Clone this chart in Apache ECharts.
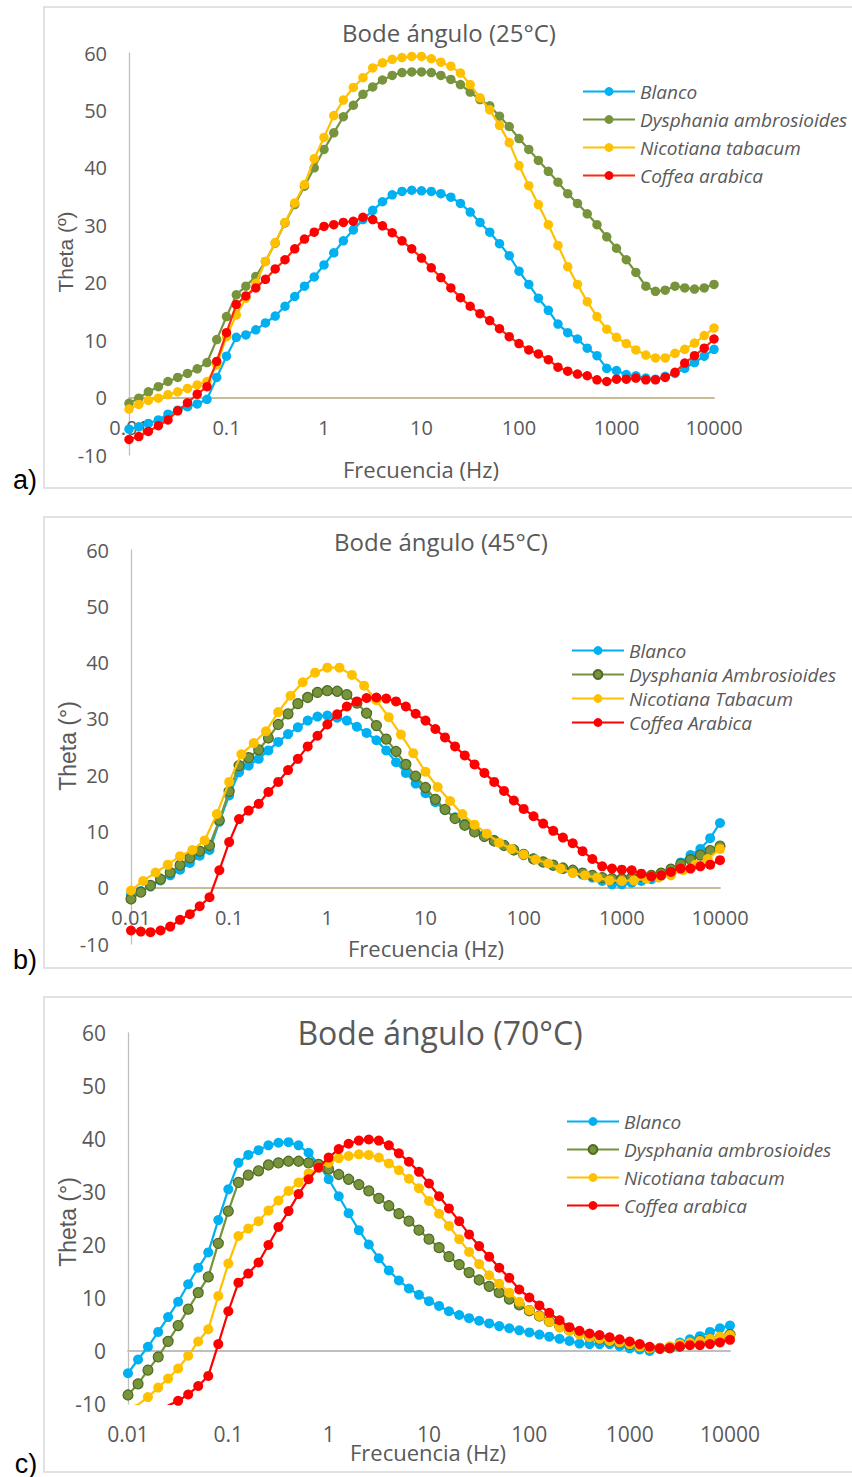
<!DOCTYPE html>
<html><head><meta charset="utf-8">
<script src="https://cdn.jsdelivr.net/npm/echarts@6/dist/echarts.min.js"></script>
<style>
html,body{margin:0;padding:0;background:#fff;}
#wrap{position:relative;width:852px;height:1477px;overflow:hidden;background:#fff;}
.panel{position:absolute;left:0;width:852px;}
</style></head><body>
<div id="wrap">
<div id="pa" class="panel" style="top:0;height:495px"></div>
<div id="pb" class="panel" style="top:495px;height:485px"></div>
<div id="pc" class="panel" style="top:980px;height:497px"></div>
</div>
<script>
// ---------- DATA ----------
const freq10 = [0.01,0.0126,0.0158,0.02,0.0251,0.0316,0.0398,0.0501,0.0631,0.0794,
  0.1,0.126,0.158,0.2,0.251,0.316,0.398,0.501,0.631,0.794,
  1,1.26,1.58,2,2.51,3.16,3.98,5.01,6.31,7.94,
  10,12.6,15.8,20,25.1,31.6,39.8,50.1,63.1,79.4,
  100,126,158,200,251,316,398,501,631,794,
  1000,1260,1580,2000,2510,3160,3980,5010,6310,7940,10000];
const freq8 = [0.01,0.0133,0.0178,0.0237,0.0316,0.0422,0.0562,0.075,
  0.1,0.133,0.178,0.237,0.316,0.422,0.562,0.75,
  1,1.33,1.78,2.37,3.16,4.22,5.62,7.5,
  10,13.3,17.8,23.7,31.6,42.2,56.2,75,
  100,133,178,237,316,422,562,750,
  1000,1330,1780,2370,3160,4220,5620,7500,10000];
const xTickLabels = ['0.01','0.1','1','10','100','1000','10000'];
const yRange = [-10, 60];
const titles = ['Bode ángulo (25°C)','Bode ángulo (45°C)','Bode ángulo (70°C)'];
const yNames = ['Theta (º)','Theta (°)','Theta (°)'];
const xName = 'Frecuencia (Hz)';
const panelTags = ['a)','b)','c)'];
const namesA = ['Blanco','Dysphania ambrosioides','Nicotiana tabacum','Coffea arabica'];
const namesB = ['Blanco','Dysphania Ambrosioides','Nicotiana Tabacum','Coffea Arabica'];
const namesC = ['Blanco','Dysphania ambrosioides','Nicotiana tabacum','Coffea arabica'];

// 25 °C
const a_blanco = [-5.5,-5.1,-4.5,-3.9,-2.9,-2.2,-1.6,-1.1,-0.3,3.5,
  7.2,10.5,10.9,11.8,13.0,14.2,15.9,17.6,19.4,21.0,
  23.1,25.2,27.3,29.2,31.0,32.6,34.1,35.3,35.9,36.1,
  36.0,35.9,35.5,34.9,33.8,32.3,30.5,28.8,26.8,24.7,
  22.0,19.7,17.3,15.2,12.8,11.3,10.2,8.6,7.3,5.1,
  4.7,4.0,3.8,3.4,3.2,3.7,4.2,5.1,6.1,7.2,8.4];
const a_dysphania = [-1.0,-0.1,1.0,1.9,2.8,3.5,4.2,5.0,6.1,10.1,
  14.1,17.9,19.4,21.1,23.7,26.9,30.4,33.6,36.8,40.0,
  43.2,46.1,48.9,50.9,52.8,54.1,55.3,56.1,56.6,56.7,
  56.7,56.6,56.1,55.4,54.5,53.2,51.9,50.8,49.0,47.2,
  45.1,43.2,41.3,39.4,37.5,35.5,33.8,32.0,30.1,28.0,
  26.0,24.0,21.8,19.4,18.5,18.7,19.4,19.1,18.9,19.1,19.7];
const a_nicotiana = [-2.0,-1.2,-0.5,-0.1,0.5,1.0,1.6,2.2,2.8,5.7,
  10.6,14.4,17.3,19.9,23.7,27.0,30.5,33.9,37.1,41.6,
  45.3,49.1,51.8,54.0,55.7,57.4,58.3,58.9,59.2,59.4,
  59.4,59.0,58.4,57.7,56.5,54.5,52.2,50.1,47.4,44.4,
  40.4,36.9,33.6,30.1,26.5,22.8,19.7,16.7,14.1,11.9,
  10.5,9.4,8.3,7.4,6.9,6.9,7.7,8.4,9.5,10.8,12.1];
const a_coffea = [-7.3,-6.8,-5.9,-4.9,-3.9,-2.3,-0.9,0.6,1.9,6.3,
  11.3,16.2,17.7,19.1,20.6,22.4,24.0,25.9,27.6,28.8,
  29.8,30.1,30.5,30.7,31.4,31.0,29.9,28.7,27.3,25.9,
  24.3,22.6,20.9,19.1,17.4,15.9,14.6,13.4,12.0,10.6,
  9.4,8.3,7.6,6.6,5.3,4.6,4.1,3.8,3.1,2.8,
  3.2,3.2,3.4,3.1,3.1,3.5,4.4,6.0,7.3,8.6,10.2];

// 45 °C
const b_blanco = [-1.2,-0.6,0.2,1.3,2.2,3.2,4.4,5.7,6.7,11.7,
  16.4,20.5,21.7,22.9,24.4,25.9,27.3,28.5,29.7,30.4,
  30.6,30.2,29.7,28.6,27.5,26.2,24.4,22.3,20.4,18.5,
  16.8,15.2,13.8,12.5,11.4,10.4,9.4,8.5,7.6,6.8,
  6.0,5.2,4.5,3.9,3.3,2.8,2.3,1.8,1.2,0.6,
  0.6,0.9,1.2,1.5,2.1,3.0,4.5,5.8,6.9,8.8,11.5];
const b_dysphania = [-2.0,-0.8,0.4,1.5,2.7,4.0,5.3,6.5,7.5,12.0,
  17.1,21.7,23.1,24.5,26.6,29.0,30.9,32.7,33.8,34.7,
  35.0,34.9,34.3,32.8,31.0,28.8,26.4,24.2,21.9,19.8,
  17.8,15.7,13.9,12.3,11.1,9.9,9.1,8.3,7.5,6.7,
  5.9,5.1,4.6,4.0,3.5,3.1,2.6,2.2,1.8,1.6,
  1.6,1.8,2.0,2.2,2.6,3.3,4.2,5.0,5.8,6.6,7.4];
const b_nicotiana = [-0.5,1.2,2.7,4.1,5.6,6.7,8.4,13.1,
  18.8,23.7,25.7,27.8,31.2,34.1,36.5,38.2,
  39.1,39.1,37.8,35.9,33.3,30.3,27.2,23.9,
  20.6,17.9,15.4,13.1,11.2,9.6,8.0,6.9,
  5.9,5.0,4.3,3.4,2.6,2.2,1.8,1.3,
  1.2,1.3,1.6,1.8,2.2,3.1,4.1,5.1,6.9];
const b_coffea = [-7.6,-7.8,-7.9,-7.6,-6.9,-5.7,-4.7,-3.3,-1.7,3.1,
  8.1,12.2,13.7,14.9,17.0,18.8,20.9,22.9,25.1,27.0,
  29.0,30.8,32.2,33.1,33.7,33.8,33.6,33.1,32.2,30.9,
  29.7,28.2,26.7,25.1,23.5,21.9,20.4,18.8,17.2,15.5,
  14.0,12.7,11.4,10.1,8.9,7.9,6.5,5.1,3.8,3.4,
  3.2,3.1,2.5,2.0,2.2,2.8,3.4,3.4,3.8,4.1,4.9];

// 70 °C
const c_blanco = [-4.2,-1.6,0.8,3.6,6.4,9.3,12.6,15.7,18.6,24.7,
  30.5,35.5,37.0,37.9,38.8,39.3,39.4,38.8,37.4,35.2,
  32.4,29.2,26.0,22.8,20.1,17.5,15.2,13.3,11.8,10.6,
  9.4,8.5,7.5,6.8,6.2,5.7,5.2,4.7,4.3,3.9,
  3.5,3.1,2.7,2.3,1.9,1.4,1.3,1.3,1.3,0.9,
  0.5,0.3,0.0,0.5,0.8,1.6,2.2,2.8,3.6,4.3,4.8];
const c_dysphania = [-8.3,-6.2,-3.6,-1.1,1.8,4.8,7.9,11.0,14.0,20.3,
  26.4,31.8,33.2,34.0,35.1,35.5,35.8,35.8,35.5,35.2,
  34.3,33.3,32.4,31.4,30.2,28.8,27.4,25.9,24.5,22.8,
  21.1,19.5,17.8,16.3,14.8,13.4,12.2,11.0,9.8,8.7,
  7.6,6.6,5.6,4.8,4.0,3.3,2.7,2.3,1.9,1.6,
  1.3,0.9,0.6,0.5,0.6,0.9,1.4,1.9,2.2,2.5,3.1];
const c_nicotiana = [-10.8,-10.1,-8.7,-6.9,-5.2,-3.3,-0.9,1.8,4.1,10.4,
  16.5,21.7,23.1,24.5,26.5,28.4,30.2,31.8,33.5,34.6,
  35.5,36.4,36.8,37.1,37.0,36.5,35.4,34.1,32.5,30.7,
  28.3,25.9,23.6,21.1,18.7,16.4,14.3,12.7,11.0,9.3,
  7.7,6.6,5.5,4.4,3.8,3.1,2.6,2.3,1.9,1.6,
  1.3,0.8,0.5,0.6,0.9,1.3,1.6,1.9,2.3,2.7,3.0];
const c_coffea = [-13.5,-12.6,-11.8,-11.0,-10.3,-9.4,-8.2,-6.6,-4.7,1.3,
  7.5,12.9,14.6,16.7,20.0,23.4,26.4,29.6,32.4,34.6,
  36.5,38.1,39.1,39.7,39.9,39.7,38.8,37.3,35.7,33.8,
  31.6,29.2,26.9,24.5,22.0,19.8,17.8,15.7,13.8,11.6,
  10.1,8.6,7.2,5.8,4.5,3.8,3.3,3.0,2.6,2.2,
  1.8,1.3,0.8,0.5,0.6,0.9,1.1,1.1,1.3,1.6,2.1];

// ---------- STYLE / LAYOUT ----------
const COL = {cyan:'#00b0f0', green:'#77933c', yellow:'#ffc000', red:'#ff0000'};
const FONT = '"Open Sans", "Noto Sans", sans-serif';
const TXT = '#595959';

function zip(xs, ys){ return ys.map((v,i)=>[xs[i], v]); }

function buildPanel(el, cfg){
  const chart = echarts.init(el, null, {renderer:'svg', width:852, height:cfg.h});
  const seriesDefs = [
    {name:cfg.names[0], x:freq10, y:cfg.data[0], line:COL.cyan, fill:COL.cyan},
    {name:cfg.names[1], x:freq10, y:cfg.data[1], line:COL.green, fill:COL.green, border:cfg.greenBorder},
    {name:cfg.names[2], x:cfg.yellowX, y:cfg.data[2], line:COL.yellow, fill:COL.yellow},
    {name:cfg.names[3], x:freq10, y:cfg.data[3], line:cfg.redLine, fill:COL.red}
  ];
  const series = seriesDefs.map((s,idx)=>({
    name:s.name, type:'line', xAxisIndex:0, yAxisIndex:0,
    data: zip(s.x, s.y),
    symbol:'circle', symbolSize:cfg.sym, showSymbol:true, showAllSymbol:true,
    lineStyle:{color:s.line, width:2.2},
    itemStyle:{color:s.fill, borderColor:s.border||s.fill, borderWidth:s.border?1.2:0},
    clip:true, z:3+idx, animation:false
  }));
  // distance (px) from the bottom of the plot to the value 0 of the y scale
  const zeroPx = cfg.grid[3] * (0 - yRange[0]) / (yRange[1] - yRange[0]);
  const labelAxis = {
    type:'log', logBase:10, min:0.01, max:10000, splitNumber:6, gridIndex:0, position:'bottom',
    offset: cfg.labelsAtZero ? -zeroPx : 0,
    axisLine:{show:false, onZero:false},
    axisTick:{show:false}, splitLine:{show:false}, minorTick:{show:false},
    axisLabel:{show:true, margin:cfg.xMargin, color:TXT, fontFamily:FONT, fontSize:cfg.tickSize,
      formatter:(v)=>xTickLabels[Math.round(Math.log10(v))+2]}
  };
  const lineAxis = {type:'log', logBase:10, min:0.01, max:10000, splitNumber:6, gridIndex:0, position:'bottom',
      axisLine:{show:true, onZero:true, lineStyle:{color:cfg.zeroColor, width:1.8}},
      axisTick:{show:false}, splitLine:{show:false}, axisLabel:{show:false}};
  const txt = (x,y,text,font,color,rot)=>({type:'text', x:x, y:y, rotation:rot||0, silent:true,
    style:{text:text, font:font, fill:color, textAlign:'center', textVerticalAlign:'middle', align:'center', verticalAlign:'middle'}});
  chart.setOption({
    animation:false,
    backgroundColor:'#ffffff',
    grid:[{left:cfg.grid[0], top:cfg.grid[1], width:cfg.grid[2], height:cfg.grid[3], containLabel:false}],
    xAxis:[labelAxis, lineAxis],
    yAxis:[{type:'value', min:yRange[0], max:yRange[1], interval:10, gridIndex:0,
      axisLine:{show:true, onZero:false, lineStyle:{color:'#bfbfbf', width:1.3}},
      axisTick:{show:false}, splitLine:{show:false},
      axisLabel:{margin:cfg.yMargin, color:TXT, fontFamily:FONT, fontSize:cfg.tickSize}}],
    legend:{orient:'vertical', left:cfg.leg[0], top:cfg.leg[1], itemGap:cfg.leg[2], padding:0,
      itemWidth:52, itemHeight:11, selectedMode:false, data:cfg.names,
      textStyle:{fontFamily:FONT, fontStyle:'italic', fontSize:19, color:TXT}},
    graphic:[
      {type:'rect', silent:true, z:-10, shape:{x:44, y:cfg.frame[0], width:900, height:cfg.frame[1]},
        style:{fill:'none', stroke:'#d9d9d9', lineWidth:1.5}},
      txt(cfg.titlePos[0], cfg.titlePos[1], cfg.title, cfg.titleSize+'px '+FONT, TXT),
      txt(cfg.xNamePos[0], cfg.xNamePos[1], xName, '22px '+FONT, TXT),
      txt(cfg.yNamePos[0], cfg.yNamePos[1], cfg.yName, cfg.yNameSize+'px "Liberation Sans", Arial, sans-serif', TXT, Math.PI/2),
      txt(cfg.tagPos[0], cfg.tagPos[1], cfg.tag, '27px "Liberation Sans", Arial, sans-serif', '#000000')
    ],
    series:series
  });
  return chart;
}

buildPanel(document.getElementById('pa'), {
  h:495, names:namesA, data:[a_blanco,a_dysphania,a_nicotiana,a_coffea], yellowX:freq10,
  redLine:'#ff2a0a', greenBorder:null, sym:9.5,
  grid:[129,53,585,402], labelsAtZero:true, zeroColor:'#c4bd97', xMargin:20, yMargin:22, tickSize:20,
  leg:[582,82,9], frame:[7,481],
  title:titles[0], titlePos:[449,32], titleSize:24,
  xNamePos:[421,469], yName:yNames[0], yNamePos:[65,252], yNameSize:21,
  tag:panelTags[0], tagPos:[25,480]
});
buildPanel(document.getElementById('pb'), {
  h:485, names:namesB, data:[b_blanco,b_dysphania,b_nicotiana,b_coffea], yellowX:freq8,
  redLine:'#ff0000', greenBorder:'#4f6a23', sym:10,
  grid:[131,55,589,394], labelsAtZero:true, zeroColor:'#c4bd97', xMargin:20, yMargin:22, tickSize:20,
  leg:[571,146,5], frame:[22,451],
  title:titles[1], titlePos:[441,46], titleSize:24,
  xNamePos:[426,453], yName:yNames[1], yNamePos:[68,251], yNameSize:23,
  tag:panelTags[1], tagPos:[25,465]
});
buildPanel(document.getElementById('pc'), {
  h:497, names:namesC, data:[c_blanco,c_dysphania,c_nicotiana,c_coffea], yellowX:freq10,
  redLine:'#ff0000', greenBorder:'#4f6a23', sym:10,
  grid:[128,53,602,371], labelsAtZero:false, zeroColor:'#bfbfbf', xMargin:19, yMargin:22, tickSize:21,
  leg:[566,132,9], frame:[17,475],
  title:titles[2], titlePos:[440,52], titleSize:32,
  xNamePos:[428,472], yName:yNames[2], yNamePos:[68,242], yNameSize:23,
  tag:panelTags[2], tagPos:[26,484]
});
</script>
</body></html>
